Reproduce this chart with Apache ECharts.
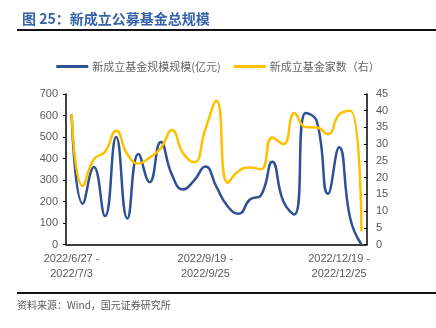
<!DOCTYPE html>
<html>
<head>
<meta charset="utf-8">
<script src="https://cdn.jsdelivr.net/npm/echarts@6/dist/echarts.min.js"></script>
<style>
html,body{margin:0;padding:0;background:#fff;}
#chart{width:436px;height:328px;}
</style>
</head>
<body>
<div id="chart"></div>
<script>
// Weekly categories (week of 2022/10/3 not present in the source)
var categories = [
  "2022/6/27 - 2022/7/3", "2022/7/4 - 2022/7/10", "2022/7/11 - 2022/7/17",
  "2022/7/18 - 2022/7/24", "2022/7/25 - 2022/7/31", "2022/8/1 - 2022/8/7",
  "2022/8/8 - 2022/8/14", "2022/8/15 - 2022/8/21", "2022/8/22 - 2022/8/28",
  "2022/8/29 - 2022/9/4", "2022/9/5 - 2022/9/11", "2022/9/12 - 2022/9/18",
  "2022/9/19 - 2022/9/25", "2022/9/26 - 2022/10/2", "2022/10/10 - 2022/10/16",
  "2022/10/17 - 2022/10/23", "2022/10/24 - 2022/10/30", "2022/10/31 - 2022/11/6",
  "2022/11/7 - 2022/11/13", "2022/11/14 - 2022/11/20", "2022/11/21 - 2022/11/27",
  "2022/11/28 - 2022/12/4", "2022/12/5 - 2022/12/11", "2022/12/12 - 2022/12/18",
  "2022/12/19 - 2022/12/25", "2022/12/26 - 2023/1/1", "2023/1/2 - 2023/1/8"
];
// 新成立基金规模 (亿元), left axis
var scaleValues = [606, 190, 360, 132, 500, 121, 421, 290, 477, 325, 256, 298, 363,
  268, 178, 143, 209, 230, 385, 200, 140, 612, 572, 236, 452, 120, 0];
// 新成立基金家数, right axis
var countValues = [39, 17.5, 25.5, 27.7, 34, 27, 24.2, 26, 28.8, 34.2, 27.3, 24.6, 34.5,
  43, 18.5, 22, 23, 22.5, 32, 30, 39.3, 35.1, 35, 33, 38.8, 40, 4];
var leftTicks = [0, 700, 100];
var rightTicks = [0, 45, 5];
var seriesNames = ["新成立基金规模规模(亿元)", "新成立基金家数（右）"];
var titleText = "图 25：新成立公募基金总规模";
var sourceText = "资料来源：Wind，国元证券研究所";

var chart = echarts.init(document.getElementById('chart'), null, {renderer: 'canvas'});
var labelFont = '"Liberation Sans", Arial, "Noto Sans CJK SC", sans-serif';
var cjkFont = '"Noto Sans CJK SC", "Liberation Sans", sans-serif';
var gray = '#595959';

chart.setOption({
  animation: false,
  backgroundColor: '#fff',
  title: {
    text: titleText,
    left: 17, top: 7,
    textStyle: {fontSize: 14, fontWeight: 'bold', color: '#3562A8', fontFamily: cjkFont}
  },
  graphic: [
    {type: 'line', shape: {x1: 17, y1: 30, x2: 436, y2: 30}, style: {stroke: '#111', lineWidth: 2}},
    {type: 'line', shape: {x1: 17, y1: 293, x2: 436, y2: 293}, style: {stroke: '#111', lineWidth: 2}},
    {type: 'text', left: 17, top: 300, style: {text: sourceText, fontSize: 10, fill: gray, fontFamily: cjkFont}}
  ],
  legend: {
    left: 'center', top: 56,
    itemWidth: 32, itemHeight: 3, itemGap: 13,
    icon: 'rect',
    textStyle: {fontSize: 11, color: '#666', fontFamily: cjkFont, padding: [0,0,0,-1]},
    data: seriesNames
  },
  grid: {left: 66, right: 69, top: 94, bottom: 83.5, containLabel: false},
  xAxis: {
    type: 'category',
    data: categories,
    boundaryGap: true,
    axisLine: {lineStyle: {color: '#000', width: 1.5}},
    axisTick: {show: false},
    axisLabel: {
      interval: 11,
      margin: 7,
      fontSize: 11, lineHeight: 15, color: gray, fontFamily: labelFont,
      formatter: function (v) { return v.replace(' - ', ' -\n'); }
    }
  },
  yAxis: [
    {
      type: 'value', min: leftTicks[0], max: leftTicks[1], interval: leftTicks[2],
      axisLine: {show: true, lineStyle: {color: '#000', width: 1.5}},
      axisTick: {show: true, inside: false, length: 3, lineStyle: {color: '#000'}},
      splitLine: {show: false},
      axisLabel: {fontSize: 11, color: gray, fontFamily: labelFont, margin: 8}
    },
    {
      type: 'value', min: rightTicks[0], max: rightTicks[1], interval: rightTicks[2],
      position: 'right',
      axisLine: {show: true, lineStyle: {color: '#000', width: 1.5}},
      axisTick: {show: true, inside: true, length: 3, lineStyle: {color: '#000'}},
      splitLine: {show: false},
      axisLabel: {fontSize: 11, color: gray, fontFamily: labelFont, margin: 9}
    }
  ],
  series: [
    {
      name: seriesNames[0], type: 'line', yAxisIndex: 0,
      data: scaleValues, smooth: 0.5, symbol: 'none',
      lineStyle: {color: '#2E5193', width: 2.5},
      itemStyle: {color: '#2E5193'}
    },
    {
      name: seriesNames[1], type: 'line', yAxisIndex: 1,
      data: countValues, smooth: 0.5, symbol: 'none',
      lineStyle: {color: '#FFC000', width: 2.5},
      itemStyle: {color: '#FFC000'}
    }
  ]
});
</script>
</body>
</html>
